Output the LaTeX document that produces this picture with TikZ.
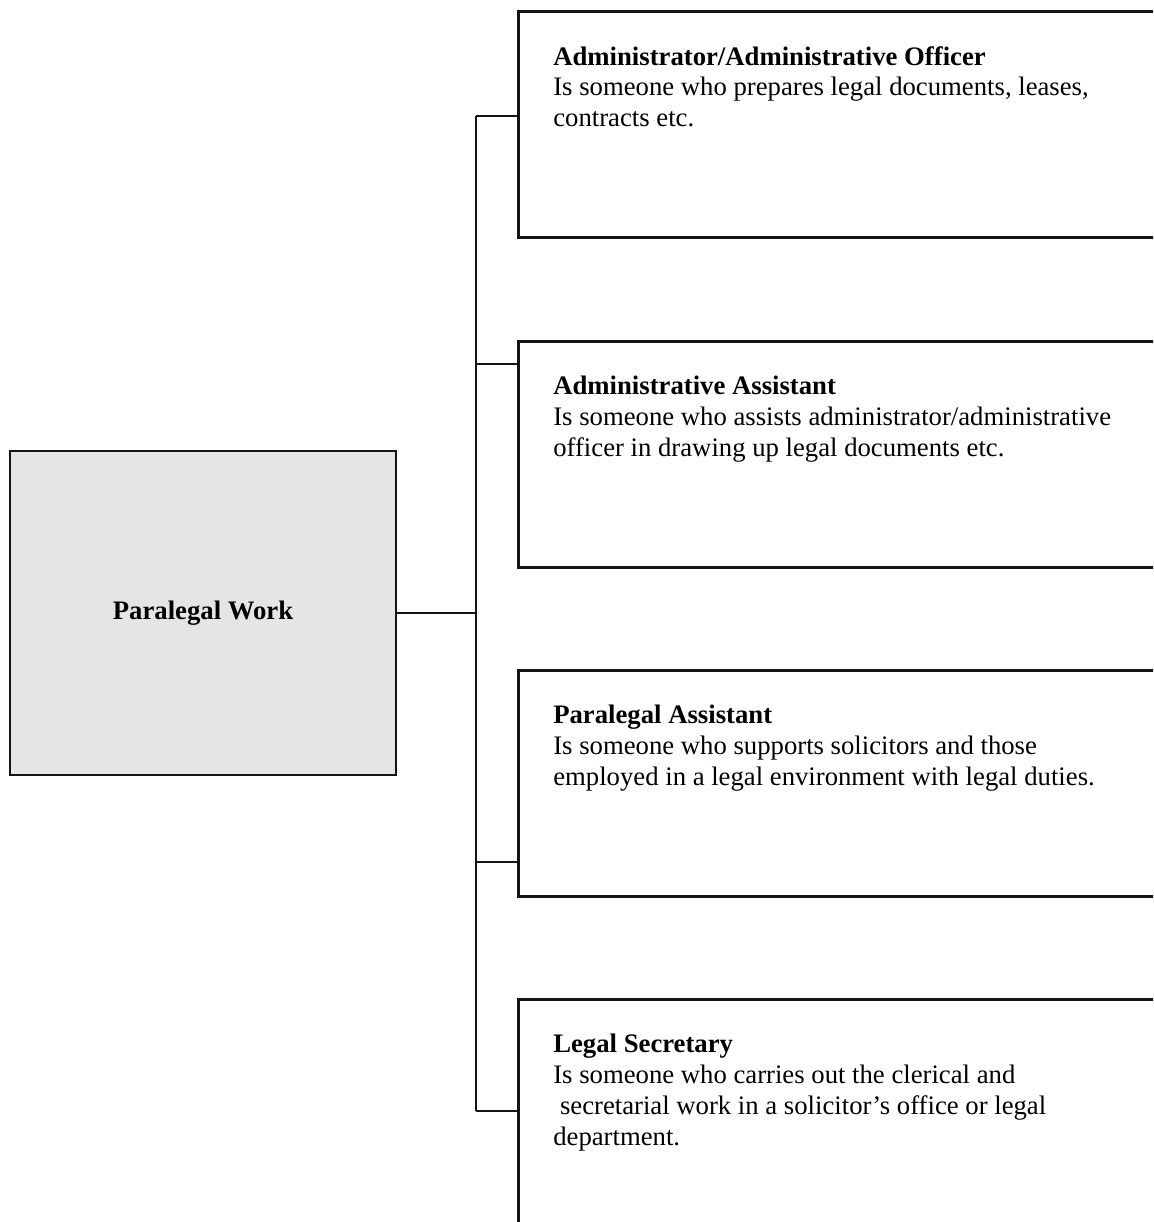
\documentclass[tikz,border=0pt]{standalone}
\usepackage{fontspec}
\setmainfont{Liberation Serif}
\usepackage{xcolor}
\definecolor{hubgray}{RGB}{229,229,229}
\definecolor{linecol}{RGB}{20,20,20}
\usepackage{tikz}

\begin{document}
\begin{tikzpicture}[x=0.02cm,y=-0.02cm,line width=1.5pt,
  hubnode/.style={draw=linecol,fill=hubgray,minimum width=7.72cm,minimum height=6.48cm,
    inner sep=0pt,font=\fontsize{15.2}{17.5}\selectfont\bfseries},
  rolenode/.style={draw=linecol,anchor=north west,minimum width=14cm,minimum height=4.52cm,inner sep=0pt},
  roletext/.style={anchor=north west,align=left,inner sep=0pt,font=\fontsize{15.2}{17.5}\selectfont},
  link/.style={draw=linecol,line width=1.3pt}
]
\clip (0,0) rectangle (1153,1222);

% the hub on the left
\node[hubnode] (hub) at (203,613) {Paralegal Work};

% the role boxes (cut off at the right)
\foreach \i/\top in {1/10,2/340,3/669,4/998}
    \node[rolenode] (role\i) at (517,\top) {};

% the texts in the boxes
\node[roletext] (txt1) at ([shift={(35,35)}]role1.north west)
    {\textbf{Administrator/Administrative Officer}\\
     Is someone who prepares legal documents, leases,\\
     contracts etc.};
\node[roletext] (txt2) at ([shift={(35,35)}]role2.north west)
    {\textbf{Administrative Assistant}\\
     Is someone who assists administrator/administrative\\
     officer in drawing up legal documents etc.};
\node[roletext] (txt3) at ([shift={(35,35)}]role3.north west)
    {\textbf{Paralegal Assistant}\\
     Is someone who supports solicitors and those\\
     employed in a legal environment with legal duties.};
\node[roletext] (txt4) at ([shift={(35,35)}]role4.north west)
    {\textbf{Legal Secretary}\\
     Is someone who carries out the clerical and\\
     \hspace*{0.25em}secretarial work in a solicitor’s office or legal\\
     department.};

% the trunk and its branches
\foreach \i/\y in {1/116,2/364,3/862,4/1111}
    \coordinate (j\i) at (476,\y);
\foreach \i in {1,2,...,4}
    \draw[link] (j\i) -- (j\i -| role\i.west);
\draw[link] (j1) -- (j4);
\draw[link] (hub.east) -- (hub.east -| j1);

\end{tikzpicture}
\end{document}
